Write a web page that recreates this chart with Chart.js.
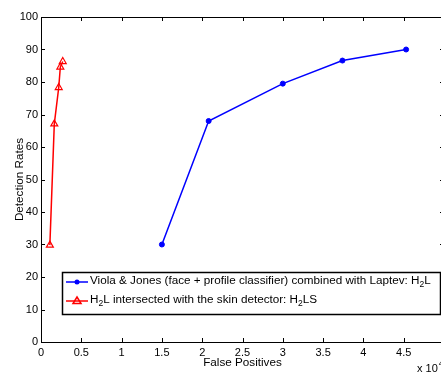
<!DOCTYPE html>
<html>
<head>
<meta charset="utf-8">
<script src="https://cdn.jsdelivr.net/npm/chart.js@4/dist/chart.umd.min.js"></script>
<style>
  html, body { margin: 0; padding: 0; background: #fff; }
  #wrap { width: 441px; height: 372px; overflow: hidden; position: relative; }
</style>
</head>
<body>
<div id="wrap"><canvas id="grafica" width="470" height="372"></canvas></div>
<script>
// False positives are in units of 10^4
const fpViola = [1.5, 2.08, 3.0, 3.74, 4.53];
const drViola = [30, 68, 79.5, 86.6, 90];
const fpSkin = [0.11, 0.165, 0.22, 0.24, 0.27];
const drSkin = [29.8, 67.1, 78.3, 84.6, 86.3];

const xTicks = [0, 0.5, 1, 1.5, 2, 2.5, 3, 3.5, 4, 4.5, 5];
const yTicks = [0, 10, 20, 30, 40, 50, 60, 70, 80, 90, 100];

const FONT = 'Liberation Sans, Arial, Helvetica, sans-serif';
const TXT = 11.7;

function toPoints(xs, ys) {
  return xs.map((x, i) => ({ x: x, y: ys[i] }));
}

// Texto con subindices: partes [texto, esSubindice]
function drawRich(ctx, parts, x, y) {
  parts.forEach(p => {
    if (p[1]) {
      ctx.font = '8.5px ' + FONT;
      ctx.fillText(p[0], x, y + 3.5);
    } else {
      ctx.font = TXT + 'px ' + FONT;
      ctx.fillText(p[0], x, y);
    }
    x += ctx.measureText(p[0]).width;
  });
}

const marcoMatlab = {
  id: 'marcoMatlab',
  afterDraw(chart) {
    const ctx = chart.ctx;
    const a = chart.chartArea;
    const xs = chart.scales.x, ys = chart.scales.y;
    ctx.save();
    ctx.strokeStyle = '#000';
    ctx.lineWidth = 1;
    // marco superior y derecho
    ctx.beginPath();
    ctx.moveTo(a.left, a.top + 0.5);
    ctx.lineTo(a.right, a.top + 0.5);
    ctx.moveTo(a.right - 0.5, a.top);
    ctx.lineTo(a.right - 0.5, a.bottom);
    ctx.stroke();
    // marcas hacia dentro
    ctx.beginPath();
    xTicks.forEach(v => {
      const px = Math.round(xs.getPixelForValue(v)) + 0.5;
      ctx.moveTo(px, a.bottom); ctx.lineTo(px, a.bottom - 4);
      ctx.moveTo(px, a.top); ctx.lineTo(px, a.top + 4);
    });
    yTicks.forEach(v => {
      const py = Math.round(ys.getPixelForValue(v)) + 0.5;
      ctx.moveTo(a.left, py); ctx.lineTo(a.left + 4, py);
      ctx.moveTo(a.right, py); ctx.lineTo(a.right - 4, py);
    });
    ctx.stroke();

    // x 10^4
    ctx.fillStyle = '#000';
    ctx.textBaseline = 'alphabetic';
    ctx.textAlign = 'left';
    ctx.font = '11px ' + FONT;
    ctx.fillText('x 10', 417, 372);
    const w = ctx.measureText('x 10').width;
    ctx.font = '8px ' + FONT;
    ctx.fillText('4', 417 + w + 1, 366);

    // leyenda
    const lx = 62, ly = 272, lw = 378, lh = 42;
    ctx.fillStyle = '#fff';
    ctx.fillRect(lx, ly, lw, lh);
    ctx.lineWidth = 1.5;
    ctx.strokeStyle = '#000';
    ctx.strokeRect(lx + 0.5, ly + 0.5, lw, lh);

    // fila 1
    ctx.lineWidth = 1.5;
    ctx.strokeStyle = '#0000ff';
    ctx.beginPath();
    ctx.moveTo(66, 282); ctx.lineTo(88, 282);
    ctx.stroke();
    ctx.fillStyle = '#0000ff';
    ctx.beginPath();
    ctx.arc(77, 282, 2.5, 0, Math.PI * 2);
    ctx.fill();
    // fila 2
    ctx.strokeStyle = '#ff0000';
    ctx.beginPath();
    ctx.moveTo(66, 301); ctx.lineTo(88, 301);
    ctx.stroke();
    ctx.beginPath();
    ctx.moveTo(77, 297); ctx.lineTo(81, 303.5); ctx.lineTo(73, 303.5); ctx.closePath();
    ctx.stroke();

    ctx.fillStyle = '#000';
    ctx.textBaseline = 'middle';
    drawRich(ctx, [['Viola & Jones (face + profile classifier) combined with Laptev: H', false], ['2', true], ['L', false]], 90, 281);
    drawRich(ctx, [['H', false], ['2', true], ['L intersected with the skin detector: H', false], ['2', true], ['LS', false]], 90, 300);
    ctx.restore();
  }
};

new Chart(document.querySelector('#grafica'), {
  type: 'line',
  data: {
    datasets: [
      {
        label: 'Viola & Jones (face + profile classifier) combined with Laptev: H2L',
        data: toPoints(fpViola, drViola),
        borderColor: '#0000ff',
        backgroundColor: '#0000ff',
        borderWidth: 1.5,
        pointStyle: 'circle',
        pointRadius: 2.5,
        pointBorderWidth: 1,
        showLine: true
      },
      {
        label: 'H2L intersected with the skin detector: H2LS',
        data: toPoints(fpSkin, drSkin),
        borderColor: '#ff0000',
        backgroundColor: 'rgba(0,0,0,0)',
        borderWidth: 1.5,
        pointStyle: 'triangle',
        pointRadius: 4,
        pointBorderWidth: 1.2,
        showLine: true
      }
    ]
  },
  options: {
    responsive: false,
    animation: false,
    layout: { padding: { left: 0, top: 17, right: 26, bottom: 0 } },
    plugins: { legend: { display: false }, tooltip: { enabled: false } },
    scales: {
      x: {
        type: 'linear',
        min: 0, max: 5,
        afterBuildTicks: s => { s.ticks = xTicks.map(v => ({ value: v })); },
        afterFit: s => { s.height = 30; },
        grid: { display: false, drawTicks: false },
        border: { display: true, color: '#000', width: 1 },
        ticks: {
          padding: 4,
          color: '#000',
          font: { family: FONT, size: 11 },
          maxRotation: 0,
          autoSkip: false,
          callback: v => String(v)
        },
        title: {
          display: true,
          text: 'False Positives',
          color: '#000',
          font: { family: FONT, size: TXT },
          padding: { top: 0, bottom: 2 }
        }
      },
      y: {
        type: 'linear',
        min: 0, max: 100,
        afterBuildTicks: s => { s.ticks = yTicks.map(v => ({ value: v })); },
        afterFit: s => { s.width = 41; },
        grid: { display: false, drawTicks: false },
        border: { display: true, color: '#000', width: 1 },
        ticks: {
          padding: 3,
          color: '#000',
          font: { family: FONT, size: 11 },
          autoSkip: false
        },
        title: {
          display: true,
          text: 'Detection Rates',
          color: '#000',
          font: { family: FONT, size: TXT },
          padding: { top: 13, bottom: 0 }
        }
      }
    }
  },
  plugins: [marcoMatlab]
});
</script>
</body>
</html>
